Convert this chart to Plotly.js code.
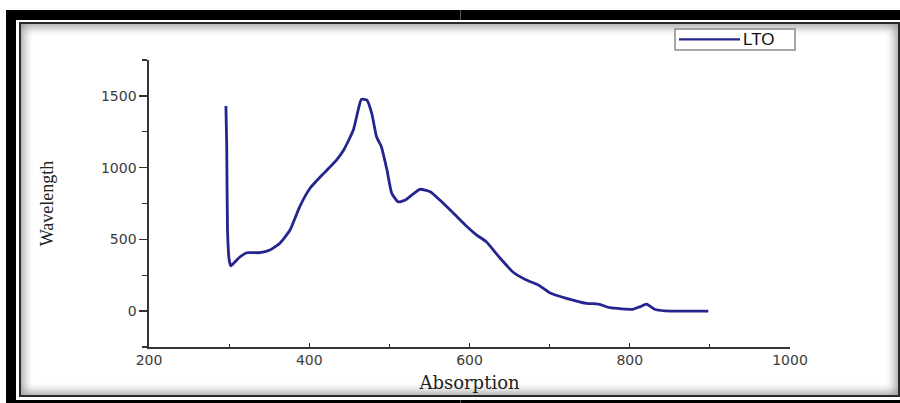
<!DOCTYPE html>
<html>
<head>
<meta charset="utf-8">
<script src="https://cdn.plot.ly/plotly-3.0.1.min.js"></script>
<style>
  html, body { margin: 0; padding: 0; background: #ffffff; }
  #wrap { position: relative; width: 900px; height: 403px; overflow: hidden; background: #ffffff; }
  #outer { position: absolute; left: 6px; top: 10px; right: 0; bottom: 0; background: #000000; }
  #gap { position: absolute; left: 16px; top: 20px; right: 0; bottom: 3px; background: #ffffff; }
  #panel { position: absolute; left: 19px; top: 22px; right: 0; bottom: 6px; background: #ffffff;
           border: 2px solid #2a2a2a; box-sizing: border-box;
           box-shadow: inset 0 0 10px 3px rgba(0,0,0,0.38); }
  .seam { position: absolute; left: 460px; width: 1px; background: #555; }
  #chart { position: absolute; left: 0; top: 0; width: 900px; height: 403px; }
</style>
</head>
<body>
<div id="wrap">
  <div id="outer"></div>
  <div class="seam" style="top:10px;height:10px;"></div>
  <div class="seam" style="top:400px;height:3px;"></div>
  <div id="gap"></div>
  <div id="panel"></div>
  <div id="chart"></div>
</div>
<script>
// Series
const seriesName = 'LTO';
const xValues = [296, 297, 298, 300, 302, 312, 322, 338, 351, 364, 376, 388, 401, 418, 434, 443, 455, 461,
                 465, 472, 478, 484, 490, 497, 503, 511, 520, 538, 551, 563, 580, 597, 609, 621, 638, 655,
                 671, 686, 700, 721, 746, 761, 775, 790, 804, 813, 821, 831, 844, 870, 898];
const yValues = [1430, 1150, 560, 360, 316, 370, 407, 407, 426, 477, 565, 727, 856, 960, 1053, 1123, 1262, 1401,
                 1476, 1471, 1378, 1215, 1146, 984, 821, 762, 774, 849, 832, 774, 682, 588, 530, 484, 370, 269,
                 217, 182, 128, 89, 54, 49, 24, 16, 13, 31, 49, 13, 2, 0, 0];
const xTitle = 'Absorption';
const yTitle = 'Wavelength';
const xRange = [200, 1000];
const yRange = [-250, 1750];

const lineColor = '#25258f';

const trace = {
  x: xValues,
  y: yValues,
  name: seriesName,
  type: 'scatter',
  mode: 'lines',
  line: { color: lineColor, width: 2.8, shape: 'spline', smoothing: 0.5 },
  showlegend: false
};

const tickFont = { family: 'DejaVu Sans, Arial, sans-serif', size: 14, color: '#3a3a3a' };

// Legend box (drawn as shapes + annotation, paper coordinates)
const legendShapes = [
  { type: 'rect', xref: 'paper', yref: 'paper', x0: 0.8206, x1: 1.0078, y0: 1.0348, y1: 1.108,
    line: { color: '#8a8a8a', width: 1.5 }, fillcolor: '#ffffff', layer: 'above' },
  { type: 'line', xref: 'paper', yref: 'paper', x0: 0.8268, x1: 0.9220, y0: 1.0721, y1: 1.0721,
    line: { color: lineColor, width: 2.2 }, layer: 'above' }
];
const legendText = [
  { xref: 'paper', yref: 'paper', x: 0.9235, y: 1.0721, xanchor: 'left', yanchor: 'middle',
    text: seriesName, showarrow: false,
    font: { family: 'Liberation Sans, Arial, sans-serif', size: 17, color: '#111' } }
];

const layout = {
  width: 900,
  height: 403,
  margin: { l: 149, r: 110, t: 60, b: 56 },
  paper_bgcolor: 'rgba(0,0,0,0)',
  plot_bgcolor: 'rgba(0,0,0,0)',
  showlegend: false,
  shapes: legendShapes,
  annotations: legendText,
  xaxis: {
    range: xRange,
    showgrid: false, zeroline: false,
    showline: true, linecolor: '#333', linewidth: 1.6,
    ticks: 'inside', ticklen: 4, tickwidth: 1.4, tickcolor: '#333',
    dtick: 200, tick0: 200,
    minor: { ticks: 'inside', ticklen: 3, tickwidth: 1.2, tickcolor: '#333', dtick: 100 },
    tickfont: tickFont,
    title: { text: xTitle, standoff: 9,
             font: { family: 'DejaVu Serif, Liberation Serif, serif', size: 18, color: '#222' } }
  },
  yaxis: {
    range: yRange,
    showgrid: false, zeroline: false,
    showline: true, linecolor: '#333', linewidth: 1.6,
    ticks: 'outside', ticklen: 8, tickwidth: 1.4, tickcolor: '#333',
    dtick: 500, tick0: 0,
    minor: { ticks: 'outside', ticklen: 5, tickwidth: 1.2, tickcolor: '#333', dtick: 250 },
    tickfont: tickFont,
    title: { text: yTitle, standoff: 42,
             font: { family: 'Liberation Serif, Times New Roman, serif', size: 18, color: '#222' } }
  }
};

Plotly.newPlot('chart', [trace], layout, { staticPlot: true, displayModeBar: false });
</script>
</body>
</html>
